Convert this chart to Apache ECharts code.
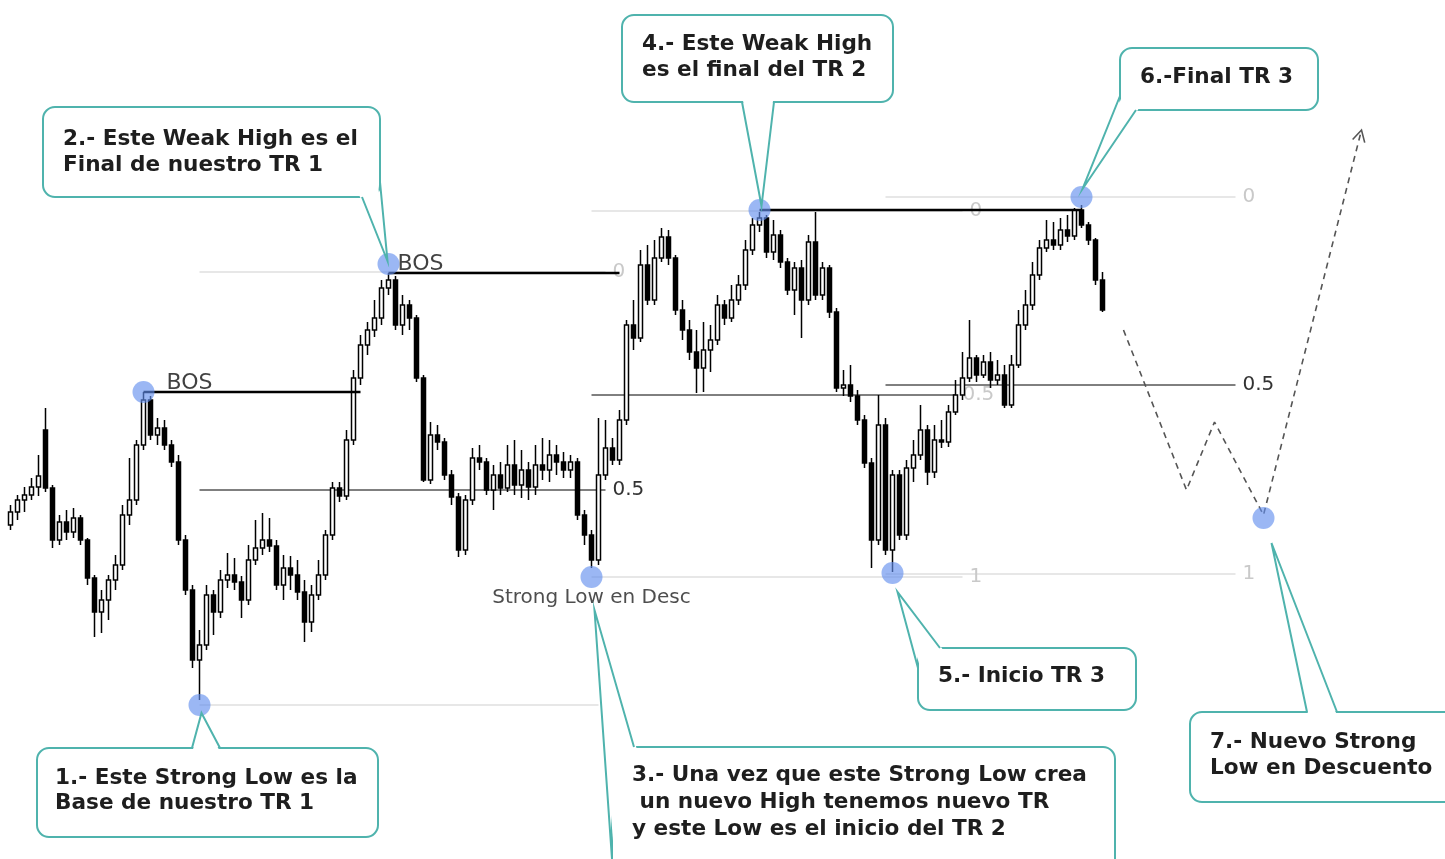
<!DOCTYPE html>
<html>
<head>
<meta charset="utf-8">
<title>TR 1 - TR 2 - TR 3</title>
<script src="https://cdn.jsdelivr.net/npm/echarts@6/dist/echarts.min.js"></script>
<style>
  html, body { margin: 0; padding: 0; background: #fff; }
  #chart { width: 1445px; height: 859px; }
</style>
</head>
<body>
<div id="chart"></div>
<script>
// candles as [open, close, low, high]
const tr1Candles = [
  [475,488,470,495],[488,500,480,505],[500,505,488,513],[505,513,500,522],[513,524,504,545],
  [570,512,508,592],[512,460,452,515],[460,478,455,485],[478,468,460,490],[468,482,462,492],
  [482,460,455,485],[460,422,415,462],[422,388,363,425],[388,400,367,410],[400,420,380,425],
  [420,435,410,445],[435,485,430,495],[485,500,475,542],[500,555,495,560],[555,600,550,608],
  [600,565,560,604],[565,572,555,582],[572,555,550,580],[555,538,533,560],[538,460,455,545],
  [460,410,405,465],[410,340,332,415],[340,355,300,370],[355,405,350,415],[405,388,365,410],
  [388,420,382,430],[420,425,412,447],[425,418,410,442],[418,400,382,424],[400,440,395,455],
  [440,452,435,480],[452,460,445,487],[460,454,448,482],[454,415,410,460],[415,432,400,445],
  [432,425,410,444],[425,408,400,440],[408,378,358,420],[378,405,368,415],[405,425,400,440],
  [425,465,420,470],[465,512,460,518],[512,504,498,518],[504,560,500,570],[560,622,555,630],
  [622,655,615,665],[655,670,645,678],[670,682,663,700],[682,712,675,720],[712,720,705,727]
];
const tr2Candles = [
  [720,675,670,724],[675,695,665,705],[695,682,670,700],[682,622,618,685],[622,520,518,625],
  [520,565,516,578],[565,558,550,575],[558,525,520,562],[525,503,495,530],[503,450,443,507],
  [450,500,445,505],[500,542,495,552],[542,538,530,555],[538,510,505,542],[510,525,490,535],
  [525,512,505,538],[512,535,508,555],[535,515,505,560],[515,530,502,550],[530,513,500,538],
  [513,535,505,555],[535,530,520,562],[530,545,518,560],[545,538,525,555],[538,530,522,548],
  [530,538,522,545],[538,485,480,542],[485,465,455,490],[465,440,432,470],[440,525,435,582],
  [525,552,520,580],[552,540,535,562],[540,580,535,590],[580,675,575,680],[675,662,650,700],
  [662,735,658,750],[735,700,695,755],[700,742,695,760],[742,763,738,772],[763,742,735,770],
  [742,690,685,745],[690,670,660,700],[670,648,640,680],[648,632,607,670],[632,650,608,678],
  [650,660,628,675],[660,695,655,705],[695,682,675,700],[682,700,678,715],[700,715,695,725],
  [715,750,710,760],[750,775,745,782],[775,782,768,788]
];
const tr3Candles = [
  [782,748,742,785],[748,765,740,780],[765,738,732,770],[738,710,705,742],[710,732,685,738],
  [732,700,662,740],[700,758,695,765],[758,705,700,788],[705,732,700,738],[732,688,682,735],
  [688,612,608,692],[612,615,604,630],[615,604,598,635],[604,580,575,610],[580,537,532,585],
  [537,460,432,542],[460,575,455,605],[575,450,445,582],[450,525,428,530],[525,465,460,530],
  [465,532,460,540],[532,545,518,560],[545,570,540,595],[570,528,515,575],[528,560,522,575],
  [560,558,552,580],[558,588,553,595],[588,605,585,620],[605,622,600,648],[622,642,618,680],
  [642,625,618,645],[625,638,622,645],[638,620,612,648],[620,625,615,640],[625,595,592,635],
  [595,635,592,645],[635,675,632,690],[675,695,670,710],[695,725,690,738],[725,752,720,760],
  [752,760,748,780],[760,755,750,778],[755,770,750,782],[770,764,758,785],[764,790,760,792],
  [790,775,772,795],[775,760,755,778],[760,720,715,762],[720,690,688,728]
];
const candles = tr1Candles.concat(tr2Candles, tr3Candles);
const slotCount = 205; // candles plus empty room for the projection
const slots = Array.from({ length: slotCount }, (_, i) => 'b' + i);

// break of structure lines: [fromIndex, toIndex, price]
const bosLines = [[19, 50, 608], [54, 87, 727], [107, 153, 790]];
// fib levels per trading range: [fromIndex, toIndex, price, ratio]
const fibTR1 = [[27, 85, 728, '0'], [27, 85, 510, '0.5'], [27, 84, 295, '']];
const fibTR2 = [[83, 136, 789, '0'], [83, 135, 605, '0.5'], [83, 136, 423, '1']];
const fibTR3 = [[125, 175, 803, '0'], [125, 175, 615, '0.5'], [125, 175, 426, '1']];
// swing points (blue circles): [index, price]
const swingPoints = [[27, 295], [54, 736], [83, 423], [107, 790], [126, 427], [153, 803], [179, 482], [19, 608]];
// projected path after the last candle
const projection = [[159, 670], [168, 510], [172, 578], [179, 485], [193, 870]];
// small chart labels: [index, price, text]
const chartTags = [[22, 617, 'BOS'], [55, 736, 'BOS']];
const lowTag = [83, 402, 'Strong Low en Desc'];

const callouts = [
  { text: ['1.- Este Strong Low es la', 'Base de nuestro TR 1'], at: 0, box: [37, 748, 341, 89], base: [[192, 748], [220, 748]], shift: [2, 8], pos: [55, 766], lh: 25 },
  { text: ['2.- Este Weak High es el', 'Final de nuestro TR 1'], at: 1, box: [43, 107, 337, 90], base: [[362, 197], [380, 182]], shift: [-1, -3], pos: [63, 126], lh: 26 },
  { text: ['3.- Una vez que este Strong Low crea', ' un nuevo High tenemos nuevo TR', 'y este Low es el inicio del TR 2'], at: 2, box: [612, 747, 503, 140], base: [[634, 747], [612, 859]], shift: [3, 33], pos: [632, 762], lh: 27 },
  { text: ['4.- Este Weak High', 'es el final del TR 2'], at: 3, box: [622, 15, 271, 87], base: [[742, 102], [774, 102]], shift: [2, -4], pos: [642, 31], lh: 26 },
  { text: ['5.- Inicio TR 3'], at: 4, box: [918, 648, 218, 62], base: [[940, 648], [918, 668]], shift: [5, 19], pos: [938, 663], lh: 26 },
  { text: ['6.-Final TR 3'], at: 5, box: [1120, 48, 198, 62], base: [[1120, 96], [1136, 110]], shift: [1, -8], pos: [1140, 64], lh: 26 },
  { text: ['7.- Nuevo Strong', 'Low en Descuento'], at: 6, box: [1190, 712, 280, 90], base: [[1307, 712], [1337, 712]], shift: [8, 25], pos: [1210, 729], lh: 26 }
];

const TEAL = '#4fb3ad';
const FAINT = '#c9c9c9';

function levelSeries(level, midColor) {
  const isMid = level[3] === '0.5';
  return {
    type: 'line',
    data: [[level[0], level[2]], [level[1], level[2]]],
    symbol: 'none',
    silent: true,
    z: 3,
    lineStyle: { color: isMid ? '#000' : '#cfcfcf', width: 1 },
    endLabel: {
      show: level[3] !== '',
      formatter: level[3],
      distance: 7,
      color: isMid ? midColor : FAINT,
      fontSize: 20,
      fontFamily: 'DejaVu Sans'
    }
  };
}

const chart = echarts.init(document.getElementById('chart'));

const series = [
  {
    type: 'candlestick',
    data: candles,
    barWidth: 5,
    z: 4,
    itemStyle: {
      color: '#fff',
      color0: '#000',
      borderColor: '#000',
      borderColor0: '#000',
      borderWidth: 1.5
    }
  }
];
fibTR1.forEach(l => series.push(levelSeries(l, '#333')));
fibTR2.forEach(l => series.push(levelSeries(l, FAINT)));
fibTR3.forEach(l => series.push(levelSeries(l, '#333')));
bosLines.forEach(b => series.push({
  type: 'line',
  data: [[b[0], b[2]], [b[1], b[2]]],
  symbol: 'none',
  silent: true,
  z: 5,
  lineStyle: { color: '#000', width: 2.6 }
}));
series.push({
  type: 'line',
  data: projection,
  symbol: 'none',
  silent: true,
  z: 5,
  lineStyle: { color: '#555', width: 1.6, type: [6, 5] }
});
series.push({
  type: 'scatter',
  data: swingPoints,
  symbolSize: 22,
  silent: true,
  z: 8,
  itemStyle: { color: 'rgba(98,142,238,0.8)' }
});
series.push({
  type: 'scatter',
  data: chartTags.map(t => ({ value: [t[0], t[1]], name: t[2] })),
  symbolSize: 0,
  silent: true,
  z: 9,
  label: {
    show: true,
    position: 'right',
    distance: 2,
    formatter: '{b}',
    color: '#111',
    fontSize: 22,
    fontFamily: 'DejaVu Sans'
  }
});
series.push({
  type: 'scatter',
  data: [{ value: [lowTag[0], lowTag[1]], name: lowTag[2] }],
  symbolSize: 0,
  silent: true,
  z: 9,
  label: {
    show: true,
    position: 'inside',
    formatter: '{b}',
    color: '#222',
    fontSize: 20,
    fontFamily: 'DejaVu Sans'
  }
});

chart.setOption({
  animation: false,
  backgroundColor: '#fff',
  grid: { left: 7, top: 0, width: slotCount * 7, bottom: 0 },
  xAxis: {
    type: 'category',
    data: slots,
    show: false,
    boundaryGap: true
  },
  yAxis: {
    type: 'value',
    min: 141,
    max: 1000,
    show: false,
    splitLine: { show: false }
  },
  series: series
});

// callout bubbles and the projection arrowhead
const graphics = [];
callouts.forEach(c => {
  const p = chart.convertToPixel({ gridIndex: 0 }, swingPoints[c.at]);
  const tip = [p[0] + c.shift[0], p[1] + c.shift[1]];
  const [bx, by, bw, bh] = c.box;
  const cx = bx + bw / 2, cy = by + bh / 2;
  const inner = c.base.map(q => {
    const dx = cx - q[0], dy = cy - q[1];
    const d = Math.hypot(dx, dy);
    return [q[0] + 2.5 * dx / d, q[1] + 2.5 * dy / d];
  });
  graphics.push({
    type: 'rect', z: 100,
    shape: { x: bx, y: by, width: bw, height: bh, r: 12 },
    style: { fill: '#fff', stroke: TEAL, lineWidth: 2 }
  });
  graphics.push({
    type: 'polygon', z: 101,
    shape: { points: [inner[0], tip, inner[1]] },
    style: { fill: '#fff' }
  });
  graphics.push({
    type: 'polyline', z: 102,
    shape: { points: [c.base[0], tip, c.base[1]] },
    style: { stroke: TEAL, lineWidth: 2, fill: null }
  });
  graphics.push({
    type: 'text', z: 103,
    x: c.pos[0], y: c.pos[1],
    style: {
      text: c.text.join('\n'),
      font: 'bold 21.6px "DejaVu Sans"',
      fill: '#1e1e1e',
      lineHeight: c.lh,
      verticalAlign: 'top'
    }
  });
});

const a = chart.convertToPixel({ gridIndex: 0 }, projection[projection.length - 2]);
const b = chart.convertToPixel({ gridIndex: 0 }, projection[projection.length - 1]);
const ang = Math.atan2(a[1] - b[1], a[0] - b[0]);
const head = [ang - 0.5, ang + 0.5].map(t => [b[0] + 13 * Math.cos(t), b[1] + 13 * Math.sin(t)]);
graphics.push({
  type: 'polyline', z: 6,
  shape: { points: [head[0], b, head[1]] },
  style: { stroke: '#555', lineWidth: 1.6, fill: null }
});

chart.setOption({ graphic: graphics });

window.addEventListener('resize', function () {
  chart.resize();
});
</script>
</body>
</html>
